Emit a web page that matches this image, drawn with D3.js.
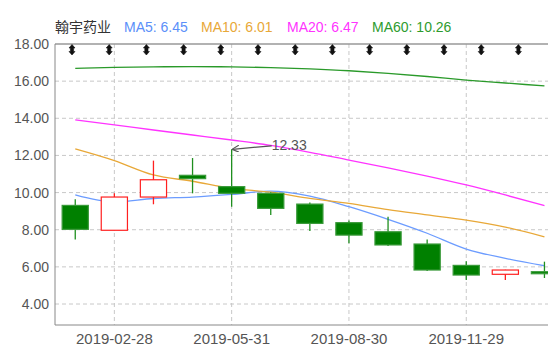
<!DOCTYPE html>
<html><head><meta charset="utf-8">
<script src="https://cdn.jsdelivr.net/npm/d3@7"></script>
<style>
html,body{margin:0;padding:0;background:#fff;}
svg{display:block;font-family:"Liberation Sans",Arial,sans-serif;}
</style></head>
<body><svg id="c" width="548" height="357"></svg>
<script>
const dates = ["2019-01-31","2019-02-28","2019-03-29","2019-04-30","2019-05-31","2019-06-28","2019-07-31","2019-08-30","2019-09-30","2019-10-31","2019-11-29","2019-12-31","2020-01-23"];
const opens  = [9.31, 7.97, 9.76, 10.93, 10.32, 9.96, 9.38, 8.38, 7.89, 7.23, 6.08, 5.60, 5.74];
const closes = [8.02, 9.76, 10.69, 10.75, 9.96, 9.15, 8.34, 7.71, 7.18, 5.83, 5.56, 5.83, 5.63];
const highs  = [9.64, 9.96, 11.72, 11.86, 12.33, 10.02, 9.47, 8.49, 8.70, 7.48, 6.30, 5.85, 6.28];
const lows   = [7.48, 7.97, 9.37, 9.96, 9.24, 8.79, 7.93, 7.27, 7.12, 5.78, 5.29, 5.29, 5.40];
const ma5  = [9.87, 9.49, 9.68, 9.76, 9.90, 10.08, 9.81, 9.24, 8.56, 7.81, 6.96, 6.46, 6.06];
const ma10 = [12.35, 11.72, 10.95, 10.61, 10.23, 10.02, 9.69, 9.42, 9.08, 8.80, 8.52, 8.14, 7.62];
const ma20 = [13.91, 13.64, 13.37, 13.10, 12.83, 12.54, 12.17, 11.75, 11.33, 10.89, 10.41, 9.87, 9.30];
const ma60 = [16.69, 16.74, 16.77, 16.78, 16.77, 16.73, 16.66, 16.56, 16.42, 16.25, 16.06, 15.90, 15.74];
const yTicks = [4, 6, 8, 10, 12, 14, 16, 18];
const xLabels = ["2019-02-28","2019-05-31","2019-08-30","2019-11-29"];
const markerSlots = d3.range(13);
const title = "翰宇药业";
const legendItems = [
  {text:"MA5: 6.45", color:"#5b8ff9"},
  {text:"MA10: 6.01", color:"#e8a838"},
  {text:"MA20: 6.47", color:"#ff33ff"},
  {text:"MA60: 10.26", color:"#2e9b2e"}
];
const maSeries = [
  {vals:ma5, color:"#6c9cff"},
  {vals:ma10, color:"#e8a838"},
  {vals:ma20, color:"#ff33ff"},
  {vals:ma60, color:"#2a9a2a"}
];
const peakLabel = "12.33";

const svg = d3.select("#c");
const L = 55, T = 44, B = 325, R = 548;
const x = d3.scaleBand().domain(dates).range([55.7, 55.7 + 13*39.1]).paddingInner(0.33).paddingOuter(0.165);
const cx = d => x(d) + x.bandwidth()/2;
const y = d3.scaleLinear().domain([2.87, 18]).range([B, T]);
const mx = d3.scalePoint().domain(markerSlots).range([72, 518.4]);

// grid
const g = svg.append("g");
g.selectAll(".hg").data(yTicks.filter(v=>v<18)).join("line")
  .attr("x1", L).attr("x2", R).attr("y1", d=>y(d)).attr("y2", d=>y(d))
  .attr("stroke", "#c8c8c8").attr("stroke-dasharray", "4,3");
g.selectAll(".vg").data(xLabels).join("line")
  .attr("x1", d=>cx(d)).attr("x2", d=>cx(d)).attr("y1", T).attr("y2", B)
  .attr("stroke", "#c8c8c8").attr("stroke-dasharray", "4,3");
g.append("line").attr("x1", L).attr("x2", R).attr("y1", y(18)).attr("y2", y(18)).attr("stroke", "#999").attr("stroke-width", 1.5);

// axes
const yAxis = d3.axisLeft(y).tickValues(yTicks).tickFormat(d3.format(".2f")).tickSize(0).tickPadding(6);
const ya = svg.append("g").attr("transform", `translate(${L},0)`).call(yAxis);
ya.select(".domain").attr("stroke", "#888").attr("d", `M0,${T}V${B}`);
ya.selectAll("text").attr("font-size", 14).attr("fill", "#555").attr("font-family", "Liberation Sans, Arial, sans-serif");
const xAxis = d3.axisBottom(x).tickValues(xLabels).tickSize(0).tickPadding(8);
const xa = svg.append("g").attr("transform", `translate(0,${B})`).call(xAxis);
xa.select(".domain").attr("stroke", "#888").attr("d", `M${L},0H${R}`);
xa.selectAll("text").attr("font-size", 15).attr("fill", "#555").attr("font-family", "Liberation Sans, Arial, sans-serif");

// MA lines
const line = d3.line().x((d,i)=>cx(dates[i])).y(d=>y(d)).curve(d3.curveMonotoneX);
svg.selectAll(".ma").data(maSeries).join("path")
  .attr("d", d=>line(d.vals)).attr("fill", "none").attr("stroke", d=>d.color).attr("stroke-width", 1.3);

// candles
const candles = dates.map((d,i)=>({d, o:opens[i], c:closes[i], h:highs[i], l:lows[i]}));
const cg = svg.selectAll(".cd").data(candles).join("g");
cg.append("line").attr("x1", d=>cx(d.d)).attr("x2", d=>cx(d.d))
  .attr("y1", d=>y(d.h)).attr("y2", d=>y(d.l))
  .attr("stroke", d=>d.c>=d.o ? "#ff2020" : "#1f8f1f").attr("stroke-width", 1.3);
cg.append("rect").attr("x", d=>x(d.d)).attr("width", x.bandwidth())
  .attr("y", d=>y(Math.max(d.o,d.c))).attr("height", d=>Math.max(2, y(Math.min(d.o,d.c)) - y(Math.max(d.o,d.c))))
  .attr("fill", d=>d.c>=d.o ? "#fff" : "#008000")
  .attr("stroke", d=>d.c>=d.o ? "#ff2020" : "#3a9a3a").attr("stroke-width", 1.2);

// markers at top
svg.selectAll(".mk").data(markerSlots).join("path")
  .attr("transform", d=>`translate(${mx(d)},${T})`)
  .attr("d", "M0,0.5L-3,4H-1.6V7.5H-3L0,11L3,7.5H1.6V4H3Z")
  .attr("fill", "#111").attr("stroke", "#111").attr("stroke-width", 0.6);

// peak annotation
const peakIdx = highs.indexOf(d3.max(highs));
const px = cx(dates[peakIdx]), py = y(highs[peakIdx]);
svg.append("defs").append("marker").attr("id","ah").attr("viewBox","0 0 10 10").attr("refX",9).attr("refY",5)
  .attr("markerWidth",6).attr("markerHeight",6).attr("orient","auto-start-reverse")
  .append("path").attr("d","M0,0L10,5L0,10").attr("fill","none").attr("stroke","#555").attr("stroke-width",1.5);
svg.append("line").attr("x1", px + 40).attr("y1", py - 3.5).attr("x2", px + 1).attr("y2", py)
  .attr("stroke", "#555").attr("stroke-width", 1.2).attr("marker-end", "url(#ah)");
svg.append("text").attr("x", px + 40).attr("y", py + 1).text(peakLabel)
  .attr("font-size", 14).attr("fill", "#555");

// title + legend
svg.append("text").attr("x", 55).attr("y", 32).text(title)
  .attr("font-size", 14).attr("fill", "#333").attr("font-family", "Noto Sans CJK SC, sans-serif");
const legX = [124, 201, 287, 372];
svg.selectAll(".lg").data(legendItems).join("text")
  .attr("x", (d,i)=>legX[i]).attr("y", 32).text(d=>d.text)
  .attr("font-size", 14).attr("fill", d=>d.color);
</script></body></html>
